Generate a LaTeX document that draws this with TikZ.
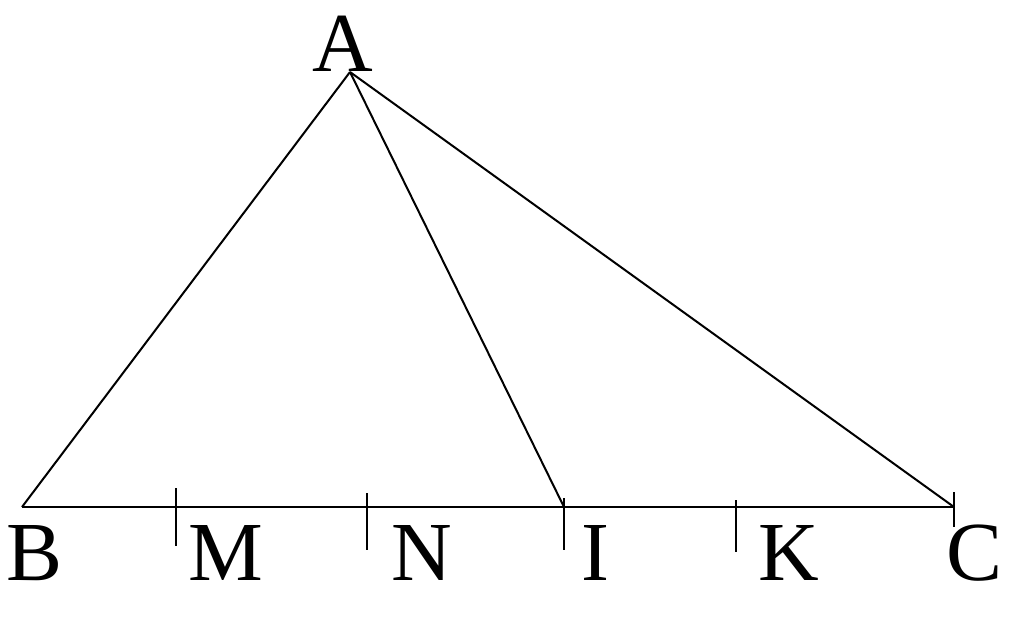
\documentclass[tikz,border=0pt]{standalone}
\usepackage{fontspec}
\setmainfont{Liberation Serif}
\begin{document}
\begin{tikzpicture}[x=1pt,y=-1pt,
  edge/.style={line width=2pt,black},
  lbl/.style={anchor=base west,inner sep=0pt,font=\fontsize{84}{84}\selectfont}]
\useasboundingbox (0,0) rectangle (1024,628);
\coordinate (A) at (350,72);
\coordinate (B) at (22,507);
\coordinate (C) at (954,507);
\coordinate (I) at (564,507);
\coordinate (Mt) at (176,488); \coordinate (Mb) at (176,546);
\coordinate (Nt) at (367,493); \coordinate (Nb) at (367,550);
\coordinate (It) at (564,498); \coordinate (Ib) at (564,550);
\coordinate (Kt) at (736,500); \coordinate (Kb) at (736,552);
\coordinate (Ct) at (954,492); \coordinate (Cb) at (954,527);
\draw[edge] (B) -- (C);
\draw[edge] (A) -- (B);
\draw[edge] (A) -- (I);
\draw[edge] (A) -- (C);
\draw[edge] (Mt) -- (Mb);
\draw[edge] (Nt) -- (Nb);
\draw[edge] (It) -- (Ib);
\draw[edge] (Kt) -- (Kb);
\draw[edge] (Ct) -- (Cb);
\node[lbl] (lA) at (312,72) {A};
\node[lbl] (lB) at (6,580) {B};
\node[lbl] (lM) at (188,580) {M};
\node[lbl] (lN) at (391,580) {N};
\node[lbl] (lI) at (581,580) {I};
\node[lbl] (lK) at (758,580) {K};
\node[lbl] (lC) at (946,580) {C};
\end{tikzpicture}
\end{document}
